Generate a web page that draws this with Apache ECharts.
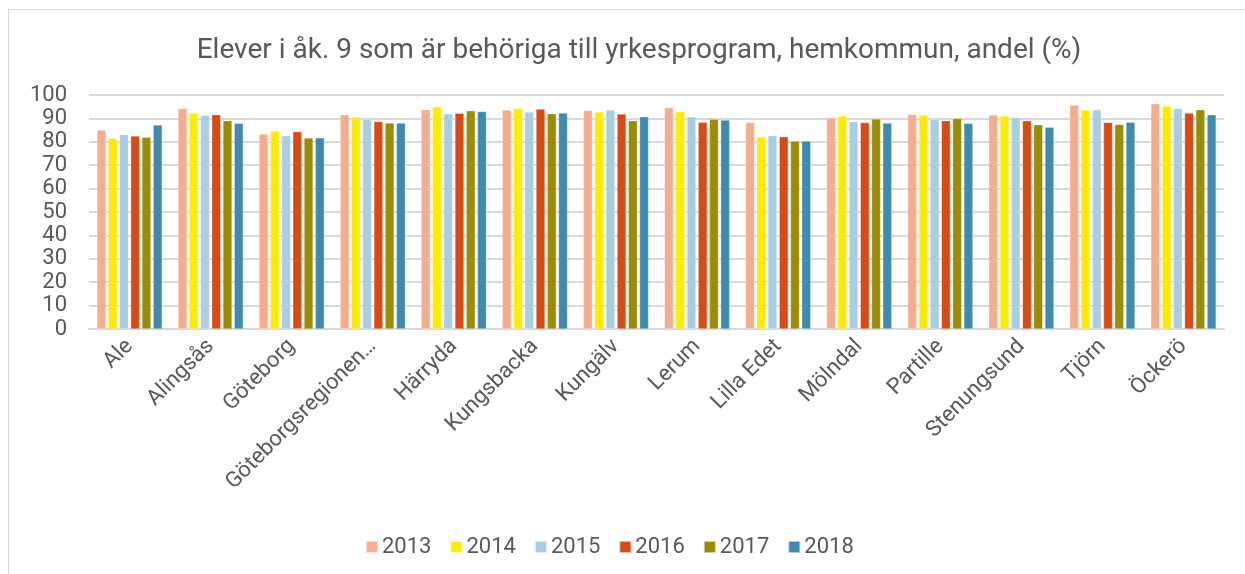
<!DOCTYPE html>
<html>
<head>
<meta charset="utf-8">
<script src="https://cdn.jsdelivr.net/npm/echarts@6/dist/echarts.min.js"></script>
<style>
  html, body { margin: 0; padding: 0; background: #fff; }
  #frame {
    position: absolute; left: 8px; top: 9px; width: 1260px; height: 600px;
    border: 1px solid #d9d9d9; box-sizing: border-box;
  }
  #chart { position: absolute; left: 0; top: 0; width: 1245px; height: 574px; }
</style>
</head>
<body>
<div id="frame"></div>
<div id="chart"></div>
<script>
const categories = ['Ale', 'Alingsås', 'Göteborg', 'Göteborgsregionen…', 'Härryda', 'Kungsbacka', 'Kungälv',
  'Lerum', 'Lilla Edet', 'Mölndal', 'Partille', 'Stenungsund', 'Tjörn', 'Öckerö']
const years = ['2013', '2014', '2015', '2016', '2017', '2018']
const colors = ['#F6AC8E', '#FFEB00', '#A9CEE1', '#DA4A14', '#9B8C00', '#3F8BB0']

const v2013 = [85.0, 94.2, 83.3, 91.6, 93.7, 93.6, 93.4, 94.6, 88.2, 90.3, 91.7, 91.4, 95.7, 96.3]
const v2014 = [81.5, 92.2, 84.6, 90.6, 95.0, 94.2, 92.7, 92.9, 82.0, 91.0, 91.4, 91.0, 93.6, 95.3]
const v2015 = [83.0, 91.3, 82.6, 89.6, 92.0, 92.7, 93.6, 90.7, 82.6, 88.6, 89.6, 90.4, 93.7, 94.2]
const v2016 = [82.5, 91.6, 84.3, 88.7, 92.2, 94.0, 91.9, 88.4, 82.2, 88.2, 89.0, 89.0, 88.3, 92.3]
const v2017 = [81.9, 89.0, 81.6, 88.0, 93.3, 92.0, 89.0, 89.6, 80.3, 89.7, 90.0, 87.3, 87.4, 93.7]
const v2018 = [87.2, 87.9, 81.7, 88.0, 93.0, 92.3, 90.7, 89.3, 80.3, 88.0, 87.9, 86.2, 88.4, 91.6]
const seriesValues = [v2013, v2014, v2015, v2016, v2017, v2018]

const font = 'Roboto, sans-serif'
const textColor = '#595959'

const chart = echarts.init(document.getElementById('chart'))
chart.setOption({
  animation: false,
  textStyle: { fontFamily: font },
  title: {
    text: 'Elever i åk. 9 som är behöriga till yrkesprogram, hemkommun, andel (%)',
    left: 634, top: 32, textAlign: 'center',
    textStyle: { fontFamily: font, fontSize: 28, fontWeight: 'normal', color: textColor }
  },
  legend: {
    data: years,
    left: 360, top: 531,
    itemWidth: 12, itemHeight: 12, itemGap: 18,
    icon: 'rect',
    textStyle: { fontFamily: font, fontSize: 22, color: textColor, padding: [0, 0, 0, -1] }
  },
  grid: { left: 89, right: 21, top: 95, bottom: 245, containLabel: false },
  xAxis: {
    type: 'category',
    data: categories,
    axisLine: { lineStyle: { color: '#d9d9d9', width: 2 } },
    axisTick: { show: false },
    axisLabel: {
      rotate: 45, interval: 0, margin: 14,
      fontFamily: font, fontSize: 22, color: textColor
    }
  },
  yAxis: {
    type: 'value',
    min: 0, max: 100, interval: 10,
    axisLine: { show: false },
    axisTick: { show: false },
    splitLine: { lineStyle: { color: '#d9d9d9', width: 2 } },
    axisLabel: { fontFamily: font, fontSize: 22, color: textColor, margin: 22 }
  },
  series: years.map((y, i) => ({
    name: y,
    type: 'bar',
    data: seriesValues[i],
    barWidth: 9,
    barGap: '25%',
    itemStyle: { color: colors[i], borderColor: 'rgba(255,255,255,0.6)', borderWidth: 0.5 }
  }))
})
</script>
</body>
</html>
